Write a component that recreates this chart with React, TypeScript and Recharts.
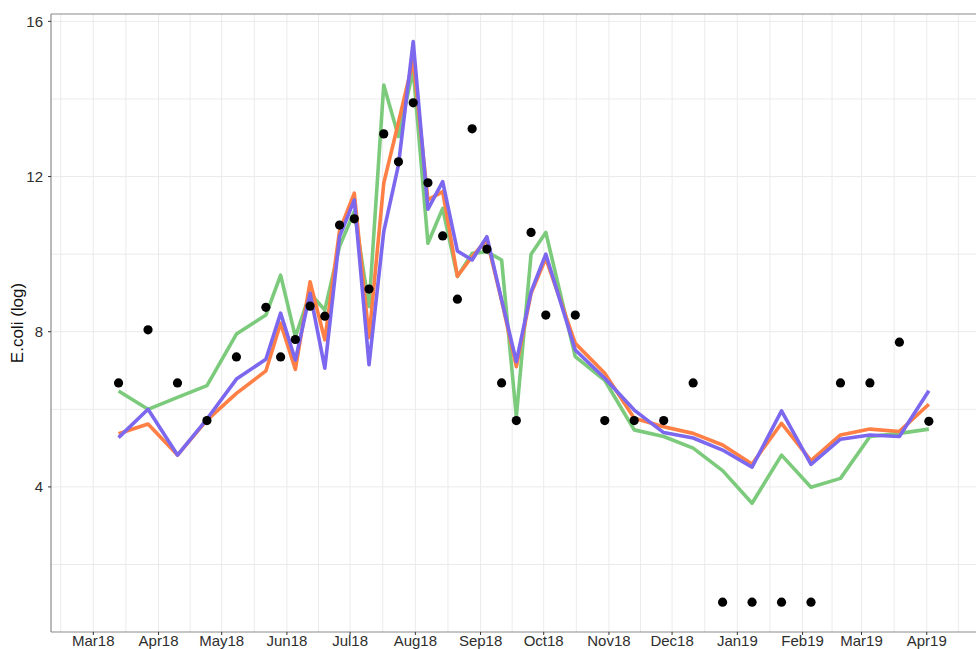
import { ComposedChart, Line, Scatter, XAxis, YAxis, CartesianGrid, ReferenceLine } from 'recharts';

// sample dates (weekly in summer, fortnightly otherwise)
const sampleDates = [
  '2018-03-13', '2018-03-27', '2018-04-10', '2018-04-24', '2018-05-08', '2018-05-22',
  '2018-05-29', '2018-06-05', '2018-06-12', '2018-06-19', '2018-06-26', '2018-07-03',
  '2018-07-10', '2018-07-17', '2018-07-24', '2018-07-31', '2018-08-07', '2018-08-14',
  '2018-08-21', '2018-08-28', '2018-09-04', '2018-09-11', '2018-09-18', '2018-09-25',
  '2018-10-02', '2018-10-16', '2018-10-30', '2018-11-13', '2018-11-27', '2018-12-11',
  '2018-12-25', '2019-01-08', '2019-01-22', '2019-02-05', '2019-02-19', '2019-03-05',
  '2019-03-19', '2019-04-02',
];

// observed E.coli (log)
const observed = [
  6.68, 8.05, 6.68, 5.71, 7.35, 8.63, 7.35, 7.8, 8.66, 8.4, 10.75, 10.91,
  9.1, 13.1, 12.38, 13.9, 11.84, 10.47, 8.84, 13.23, 10.13, 6.68, 5.71, 10.56,
  8.43, 8.43, 5.71, 5.71, 5.71, 6.68, 1.03, 1.03, 1.03, 1.03, 6.68, 6.68, 7.73, 5.69,
];

// model predictions
const modelGreen = [
  6.47, 6.0, 6.31, 6.61, 7.94, 8.43, 9.46, 7.87, 8.99, 8.56, 10.2, 11.1,
  8.65, 14.36, 13.03, 14.75, 10.28, 11.18, 9.42, 10.02, 10.06, 9.85, 5.81, 10.0,
  10.56, 7.36, 6.75, 5.47, 5.3, 5.0, 4.42, 3.58, 4.82, 3.99, 4.22, 5.3, 5.38, 5.49,
];
const modelOrange = [
  5.37, 5.62, 4.82, 5.72, 6.41, 6.99, 8.22, 7.03, 9.29, 7.79, 10.6, 11.57,
  7.85, 11.83, 13.4, 15.0, 11.4, 11.61, 9.43, 9.94, 10.37, 8.8, 7.1, 8.99,
  9.89, 7.7, 6.93, 5.77, 5.55, 5.38, 5.08, 4.59, 5.64, 4.68, 5.34, 5.49, 5.43, 6.13,
];
const modelPurple = [
  5.27, 6.0, 4.82, 5.75, 6.78, 7.29, 8.48, 7.27, 8.99, 7.06, 10.45, 11.4,
  7.15, 10.58, 12.3, 15.48, 11.16, 11.87, 10.08, 9.85, 10.45, 8.82, 7.23, 9.03,
  10.0, 7.53, 6.8, 5.98, 5.4, 5.26, 4.95, 4.51, 5.96, 4.58, 5.23, 5.34, 5.3, 6.48,
];

const monthTicks = [
  '2018-03-01', '2018-04-01', '2018-05-01', '2018-06-01', '2018-07-01', '2018-08-01',
  '2018-09-01', '2018-10-01', '2018-11-01', '2018-12-01', '2019-01-01', '2019-02-01',
  '2019-03-01', '2019-04-01',
];
const yTicks = [4, 8, 12, 16];
const yGrid = [2, 4, 6, 8, 10, 12, 14, 16];

const MONTHS = ['Jan', 'Feb', 'Mar', 'Apr', 'May', 'Jun', 'Jul', 'Aug', 'Sep', 'Oct', 'Nov', 'Dec'];
const DAY = 86400000;
const toTime = (s: string) => Date.parse(s + 'T00:00:00Z');

const data = sampleDates.map((d, i) => ({
  t: toTime(d),
  obs: observed[i],
  green: modelGreen[i],
  orange: modelOrange[i],
  purple: modelPurple[i],
}));

const majorX = monthTicks.map(toTime);
const nextMonth = toTime('2019-05-01');
const minorX = [
  majorX[0] - (majorX[1] - majorX[0]) / 2,
  ...majorX.map((m, i) => (m + (i + 1 < majorX.length ? majorX[i + 1] : nextMonth)) / 2),
];

const W = 1000;
const H = 649;
const X_MIN = majorX[0] - 20.1 * DAY;
const X_MAX = majorX[0] + 430.8 * DAY;
const Y_MIN = 0.26;
const Y_MAX = 16.19;

const fmtMonth = (v: number) => {
  const d = new Date(v);
  return MONTHS[d.getUTCMonth()] + String(d.getUTCFullYear()).slice(2);
};

const dot = (p: any) => <circle cx={p.cx} cy={p.cy} r={4.6} fill="#000" />;

const YLabel = (p: any) => {
  const vb = p.viewBox;
  const cx = vb.x + 17;
  const cy = vb.y + vb.height / 2;
  return (
    <text x={cx} y={cy} transform={`rotate(-90, ${cx}, ${cy})`} textAnchor="middle"
      dominantBaseline="central" fontSize={17} fill="#111">
      E.coli (log)
    </text>
  );
};

export default function App() {
  return (
    <div style={{
      position: 'absolute', left: 0, top: 0, width: 976, height: 649, overflow: 'hidden',
      background: '#fff', fontFamily: '"Liberation Sans", Arial, sans-serif',
    }}>
      <ComposedChart width={W} height={H} data={data} margin={{ top: 14, right: 0, bottom: 0, left: 0 }}>
        <CartesianGrid stroke="#ebebeb" strokeWidth={1}
          verticalValues={[...minorX, ...majorX]} horizontalValues={yGrid} />
        <XAxis dataKey="t" type="number" domain={[X_MIN, X_MAX]} allowDataOverflow
          ticks={majorX} tickFormatter={fmtMonth} interval={0} height={17}
          tickSize={3} tickMargin={0} tick={{ fill: '#2e2e2e', fontSize: 15 }}
          tickLine={{ stroke: '#333' }} axisLine={{ stroke: '#8a8a8a', strokeWidth: 1.2 }} />
        <YAxis type="number" domain={[Y_MIN, Y_MAX]} allowDataOverflow ticks={yTicks}
          width={51} tickSize={3} tickMargin={5} tick={{ fill: '#2e2e2e', fontSize: 15 }}
          tickLine={{ stroke: '#333' }} axisLine={{ stroke: '#8a8a8a', strokeWidth: 1.2 }}
          label={<YLabel />} />
        <ReferenceLine y={Y_MAX} stroke="#8a8a8a" strokeWidth={1.2} />
        <Line dataKey="green" type="linear" stroke="#7ccb7c" strokeWidth={3.6} dot={false}
          strokeLinejoin="round" isAnimationActive={false} />
        <Line dataKey="orange" type="linear" stroke="#ff7f45" strokeWidth={3.6} dot={false}
          strokeLinejoin="round" isAnimationActive={false} />
        <Line dataKey="purple" type="linear" stroke="#7b68ee" strokeWidth={3.6} dot={false}
          strokeLinejoin="round" isAnimationActive={false} />
        <Scatter dataKey="obs" shape={dot} isAnimationActive={false} />
      </ComposedChart>
    </div>
  );
}
